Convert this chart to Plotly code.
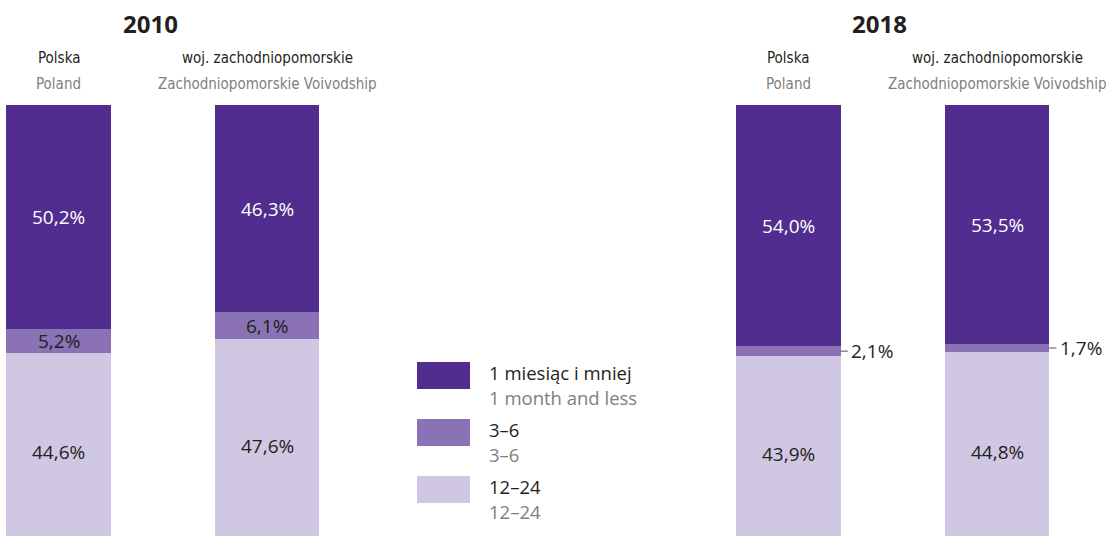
import plotly.graph_objects as go

# ---- data ----
years = ["2010", "2018"]
regions_pl = ["Polska", "woj. zachodniopomorskie", "Polska", "woj. zachodniopomorskie"]
regions_en = ["Poland", "Zachodniopomorskie Voivodship", "Poland", "Zachodniopomorskie Voivodship"]
bar_pos = [0, 1, 3.5, 4.5]

series_pl = ["1 miesiąc i mniej", "3–6", "12–24"]
series_en = ["1 month and less", "3–6", "12–24"]
v_1m = [50.2, 46.3, 54.0, 53.5]
v_36 = [5.2, 6.1, 2.1, 1.7]
v_1224 = [44.6, 47.6, 43.9, 44.8]

colors = ["#512d8f", "#8a72b4", "#d0c7e2"]
DARK = "#231f20"
GRAY = "#808080"

W, H = 1106, 536
TOP = 105

fig = go.Figure()
stack = [(v_1224, colors[2], series_pl[2]), (v_36, colors[1], series_pl[1]), (v_1m, colors[0], series_pl[0])]
for vals, col, name in stack:
    fig.add_trace(go.Bar(x=bar_pos, y=vals, width=0.5, marker=dict(color=col, line=dict(width=0)),
                         name=name, showlegend=False, hoverinfo="y+name"))

def fmt(v):
    return f"{v:.1f}".replace(".", ",") + "%"

annotations = []
VALFONT = "Open Sans, Noto Sans, sans-serif"
NARROW = "DejaVu Sans Condensed, Open Sans, sans-serif"
for i, x in enumerate(bar_pos):
    base = 0.0
    for vals, col, name in stack:
        v = vals[i]
        mid = base + v / 2
        if v >= 4:
            tc = "white" if col == colors[0] else DARK
            annotations.append(dict(x=x, y=mid, xref="x", yref="y", text=fmt(v), showarrow=False,
                                    xanchor="center", yanchor="middle",
                                    font=dict(family=VALFONT, size=19, color=tc)))
        else:
            fig.add_shape(type="line", xref="x", yref="y", x0=x + 0.25, x1=x + 0.285, y0=mid, y1=mid,
                          line=dict(color="#555555", width=1))
            annotations.append(dict(x=x + 0.29, y=mid, xref="x", yref="y", text=fmt(v), showarrow=False,
                                    xanchor="left", yanchor="middle",
                                    font=dict(family=VALFONT, size=19, color=DARK)))
        base += v

def py(pixel):
    return (H - pixel) / (H - TOP)

# region headers
for i, x in enumerate(bar_pos):
    annotations.append(dict(x=x, y=py(58), xref="x", yref="paper", text=regions_pl[i], showarrow=False,
                            xanchor="center", yanchor="middle",
                            font=dict(family=NARROW, size=15, color=DARK)))
    annotations.append(dict(x=x, y=py(84), xref="x", yref="paper", text=regions_en[i], showarrow=False,
                            xanchor="center", yanchor="middle",
                            font=dict(family=NARROW, size=15, color=GRAY)))

# year titles
for yr, px in zip(years, [150.5, 879]):
    annotations.append(dict(x=px / W, y=py(23), xref="paper", yref="paper", text=f"<b>{yr}</b>",
                            showarrow=False, xanchor="center", yanchor="middle",
                            font=dict(family=VALFONT, size=24, color=DARK)))

# legend
sw_tops = [362, 419, 476]
for k, top in enumerate(sw_tops):
    fig.add_shape(type="rect", xref="paper", yref="paper", x0=417 / W, x1=470 / W, y0=py(top + 27), y1=py(top),
                  fillcolor=colors[k], line=dict(width=0))
    annotations.append(dict(x=487 / W, y=py(top + 10), xref="paper", yref="paper", text=series_pl[k],
                            showarrow=False, xanchor="left", yanchor="middle",
                            font=dict(family=VALFONT, size=18.5, color=DARK)))
    annotations.append(dict(x=487 / W, y=py(top + 35), xref="paper", yref="paper", text=series_en[k],
                            showarrow=False, xanchor="left", yanchor="middle",
                            font=dict(family=VALFONT, size=18.5, color=GRAY)))

u = 208.56
fig.update_layout(
    width=W, height=H, barmode="stack",
    margin=dict(l=0, r=0, t=TOP, b=0),
    paper_bgcolor="white", plot_bgcolor="white",
    xaxis=dict(range=[-58.5 / u, (W - 58.5) / u], visible=False, fixedrange=True),
    yaxis=dict(range=[3.6, 100], visible=False, fixedrange=True),
    annotations=annotations,
    showlegend=False,
)
fig.write_html("out.html", config={"displayModeBar": False},
               post_script="document.body.style.margin='0';")
